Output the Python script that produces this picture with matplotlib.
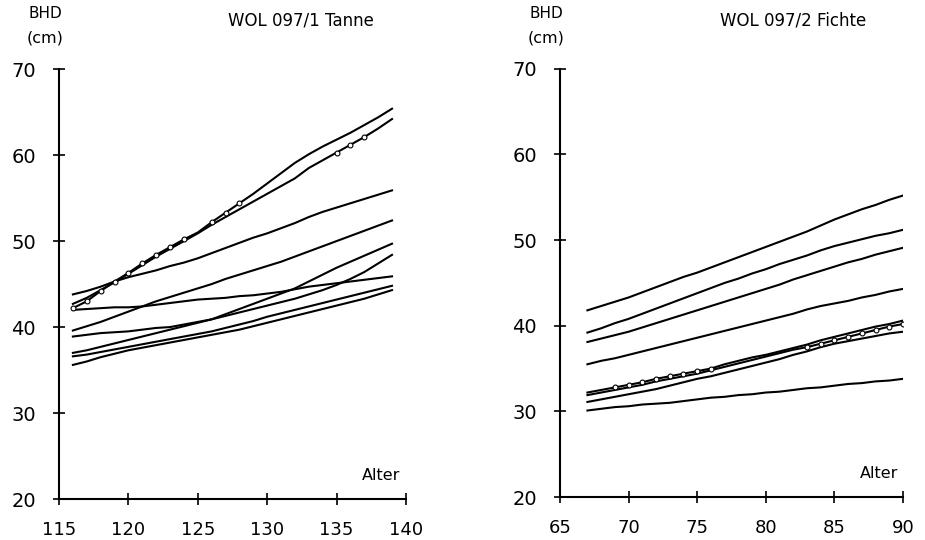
import matplotlib
matplotlib.use("Agg")
import matplotlib.pyplot as plt

# Alter (Jahre) und BHD-Verlaeufe (cm)
alter_tanne = list(range(116, 140))
tanne = [
    [42.2, 43.0, 44.2, 45.3, 46.3, 47.4, 48.4, 49.3, 50.2, 51.0, 52.2, 53.3,
     54.4, 55.5, 56.7, 57.9, 59.1, 60.1, 61.0, 61.8, 62.6, 63.5, 64.4, 65.4],
    [42.7, 43.4, 44.3, 45.2, 46.2, 47.2, 48.2, 49.1, 50.0, 50.9, 51.9, 52.8,
     53.7, 54.6, 55.5, 56.4, 57.3, 58.5, 59.4, 60.3, 61.2, 62.1, 63.1, 64.2],
    [43.8, 44.2, 44.7, 45.3, 45.8, 46.2, 46.6, 47.1, 47.5, 48.0, 48.6, 49.2,
     49.8, 50.4, 50.9, 51.5, 52.1, 52.8, 53.4, 53.9, 54.4, 54.9, 55.4, 55.9],
    [42.0, 42.1, 42.2, 42.3, 42.3, 42.4, 42.6, 42.8, 43.0, 43.2, 43.3, 43.4,
     43.6, 43.7, 43.9, 44.1, 44.4, 44.7, 44.9, 45.1, 45.3, 45.5, 45.7, 45.9],
    [39.6, 40.1, 40.6, 41.2, 41.8, 42.4, 43.0, 43.5, 44.0, 44.5, 45.0, 45.6,
     46.1, 46.6, 47.1, 47.6, 48.2, 48.8, 49.4, 50.0, 50.6, 51.2, 51.8, 52.4],
    [38.9, 39.1, 39.3, 39.4, 39.5, 39.7, 39.9, 40.0, 40.3, 40.6, 40.9, 41.5,
     42.1, 42.7, 43.3, 43.9, 44.5, 45.3, 46.1, 46.9, 47.6, 48.3, 49.0, 49.7],
    [37.0, 37.3, 37.7, 38.1, 38.5, 38.9, 39.3, 39.7, 40.1, 40.5, 40.9, 41.3,
     41.7, 42.1, 42.5, 42.9, 43.3, 43.8, 44.3, 44.9, 45.6, 46.4, 47.4, 48.4],
    [36.6, 36.8, 37.1, 37.4, 37.7, 38.0, 38.3, 38.6, 38.9, 39.2, 39.5, 39.9,
     40.3, 40.7, 41.2, 41.6, 42.0, 42.4, 42.8, 43.2, 43.6, 44.0, 44.4, 44.8],
    [35.6, 36.0, 36.5, 36.9, 37.3, 37.6, 37.9, 38.2, 38.5, 38.8, 39.1, 39.4,
     39.7, 40.1, 40.5, 40.9, 41.3, 41.7, 42.1, 42.5, 42.9, 43.3, 43.8, 44.3],
]
# Abschnitte, in denen sich zwei Kurven ueberdecken (Linie, von, bis)
kreise_tanne = [(0, 116, 124), (0, 126, 128), (1, 135, 137)]

alter_fichte = list(range(67, 91))
fichte = [
    [41.8, 42.3, 42.8, 43.3, 43.9, 44.5, 45.1, 45.7, 46.2, 46.8, 47.4, 48.0,
     48.6, 49.2, 49.8, 50.4, 51.0, 51.7, 52.4, 53.0, 53.6, 54.1, 54.7, 55.2],
    [39.2, 39.7, 40.3, 40.8, 41.4, 42.0, 42.6, 43.2, 43.8, 44.4, 45.0, 45.5,
     46.1, 46.6, 47.2, 47.7, 48.2, 48.8, 49.3, 49.7, 50.1, 50.5, 50.8, 51.2],
    [38.1, 38.5, 38.9, 39.3, 39.8, 40.3, 40.8, 41.3, 41.8, 42.3, 42.8, 43.3,
     43.8, 44.3, 44.8, 45.4, 45.9, 46.4, 46.9, 47.4, 47.8, 48.3, 48.7, 49.1],
    [35.5, 35.9, 36.2, 36.6, 37.0, 37.4, 37.8, 38.2, 38.6, 39.0, 39.4, 39.8,
     40.2, 40.6, 41.0, 41.4, 41.9, 42.3, 42.6, 42.9, 43.3, 43.6, 44.0, 44.3],
    [32.2, 32.5, 32.8, 33.1, 33.4, 33.8, 34.1, 34.4, 34.7, 35.0, 35.5, 35.9,
     36.3, 36.6, 37.0, 37.4, 37.8, 38.3, 38.7, 39.1, 39.5, 39.9, 40.2, 40.6],
    [31.9, 32.2, 32.5, 32.8, 33.1, 33.5, 33.8, 34.1, 34.4, 34.8, 35.2, 35.6,
     36.0, 36.4, 36.8, 37.2, 37.5, 37.9, 38.3, 38.7, 39.1, 39.5, 39.9, 40.2],
    [31.1, 31.4, 31.7, 32.0, 32.3, 32.6, 33.0, 33.4, 33.8, 34.1, 34.5, 34.9,
     35.3, 35.7, 36.1, 36.6, 37.0, 37.5, 37.9, 38.2, 38.5, 38.8, 39.1, 39.3],
    [30.1, 30.3, 30.5, 30.6, 30.8, 30.9, 31.0, 31.2, 31.4, 31.6, 31.7, 31.9,
     32.0, 32.2, 32.3, 32.5, 32.7, 32.8, 33.0, 33.2, 33.3, 33.5, 33.6, 33.8],
]
kreise_fichte = [(4, 69, 76), (5, 83, 90)]

yticks = [20, 30, 40, 50, 60, 70]
xticks_tanne = [115, 120, 125, 130, 135, 140]
xticks_fichte = [65, 70, 75, 80, 85, 90]

fig = plt.figure(figsize=(9.25, 5.4), dpi=100)

def panel(rect, alter, reihen, kreise, xticks, titel, title_x):
    ax = fig.add_axes(rect)
    for werte in reihen:
        ax.plot(alter, werte, color="black", lw=1.5)
    # kleine Ringe, wo Kurven fast deckungsgleich laufen
    for i, a0, a1 in kreise:
        xs = [a for a in alter if a0 <= a <= a1]
        ys = [w for a, w in zip(alter, reihen[i]) if a0 <= a <= a1]
        ax.plot(xs, ys, ls="none", marker="o", ms=3.5, mfc="white",
                mec="black", mew=0.8)
    ax.set_xlim(xticks[0], xticks[-1])
    ax.set_ylim(20, 70)
    ax.set_xticks(xticks)
    ax.set_yticks(yticks)
    for s in ["top", "right"]:
        ax.spines[s].set_visible(False)
    for s in ["left", "bottom"]:
        ax.spines[s].set_linewidth(1.5)
    ax.tick_params(axis="x", direction="inout", length=9, width=1.2,
                   labelsize=13, pad=11)
    ax.tick_params(axis="y", direction="inout", length=9, width=1.2,
                   labelsize=14, pad=12)
    ax.text(0.985, 0.055, "Alter", transform=ax.transAxes, ha="right",
            va="center", fontsize=11.5)
    # Beschriftungen oberhalb der Achse
    x0 = rect[0]
    fig.text(x0 - 0.015, 0.975, "BHD", ha="center", va="center", fontsize=11)
    fig.text(x0 - 0.015, 0.93, "(cm)", ha="center", va="center", fontsize=11.5)
    fig.text(title_x, 0.962, titel, ha="center", va="center", fontsize=12)
    return ax

panel([0.0638, 0.0759, 0.375, 0.796], alter_tanne, tanne, kreise_tanne,
      xticks_tanne, "WOL 097/1 Tanne", 0.325)
panel([0.6054, 0.0796, 0.3708, 0.793], alter_fichte, fichte, kreise_fichte,
      xticks_fichte, "WOL 097/2 Fichte", 0.857)

fig.savefig("out.png", dpi=100)
